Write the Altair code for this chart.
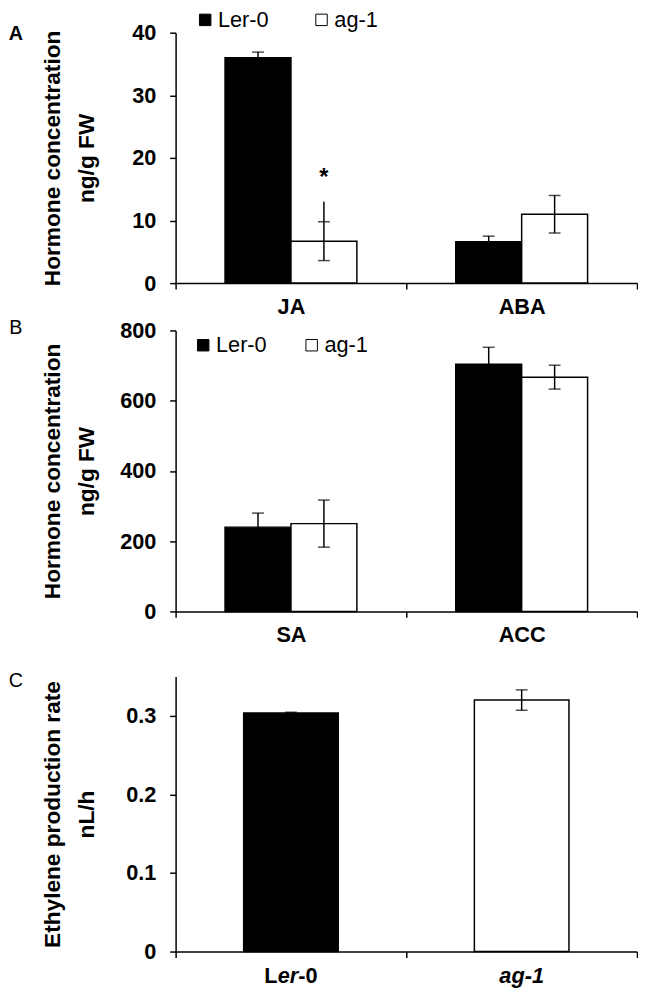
import altair as alt
import pandas as pd

FONT = "Liberation Sans"

# ---- data ----
genotypes = ["Ler-0", "ag-1"]

cats_A = ["JA", "ABA"]
ler_A = [36.0, 6.6]
ler_A_err = [0.9, 0.9]
ag_A = [6.7, 11.0]
ag_A_err = [3.1, 3.0]

cats_B = ["SA", "ACC"]
ler_B = [240, 704]
ler_B_err = [40, 48]
ag_B = [250, 667]
ag_B_err = [67, 34]

cats_C = ["Ler-0", "ag-1"]
val_C = [0.3035, 0.320]
err_C = [0.001, 0.013]

star_pos = {"category": "JA", "genotype": "ag-1", "y": 15.7, "t": "*"}
slash_pos = {"category": "JA", "genotype": "ag-1", "lo": 9.8, "hi": 13.0}

W = 468
HA, HB, HC = 254, 285, 279
TITLE_X = -118
LABEL_FS = 22


def long_df(cats, ler, ler_err, ag, ag_err):
    rows = []
    for i, c in enumerate(cats):
        for g, v, e in (("Ler-0", ler[i], ler_err[i]), ("ag-1", ag[i], ag_err[i])):
            rows.append({"category": c, "genotype": g, "value": v,
                         "lo": v - e, "hi": v + e})
    return pd.DataFrame(rows)


def letter(t, y, weight):
    return alt.Chart(pd.DataFrame({"t": [t]})).mark_text(
        font=FONT, fontSize=20, fontWeight=weight, align="center",
        baseline="middle", color="black"
    ).encode(text="t:N", x=alt.value(-162), y=alt.value(y))


def y_axis(title, values, height, fmt=None):
    kw = dict(values=values, title=title, titleX=TITLE_X,
              titleY=height / 2, titleBaseline="alphabetic",
              titleAngle=270, titleAlign="center",
              titleFontSize=23, titleLineHeight=35,
              titleFont=FONT, titleFontWeight="bold",
              labelPadding=14)
    if fmt:
        kw["format"] = fmt
    return alt.Axis(**kw)


def grouped_panel(df, cats, ymax, yvals, height, title, legend_x, legend_y,
                  col_pad, letter_t, letter_y, letter_w):
    xenc = alt.X("category:N", sort=cats,
                 scale=alt.Scale(paddingInner=0, paddingOuter=0),
                 axis=alt.Axis(title=None, tickBand="extent", labelAngle=0,
                               labelPadding=8))
    xoff = alt.XOffset("genotype:N", sort=genotypes,
                       scale=alt.Scale(paddingInner=0, paddingOuter=0.75))
    base = alt.Chart(df).encode(x=xenc, xOffset=xoff)
    yscale = alt.Scale(domain=[0, ymax], nice=False)
    bars = base.mark_bar(stroke="black", strokeWidth=1.5).encode(
        y=alt.Y("value:Q", scale=yscale, axis=y_axis(title, yvals, height)),
        color=alt.Color("genotype:N", sort=genotypes,
                        scale=alt.Scale(domain=genotypes, range=["black", "white"]),
                        legend=alt.Legend(title=None, orient="none",
                                          legendX=legend_x, legendY=legend_y,
                                          direction="horizontal",
                                          symbolType="square", symbolSize=135,
                                          symbolStrokeColor="black",
                                          symbolStrokeWidth=1,
                                          symbolOpacity=1,
                                          labelFont=FONT, labelFontSize=22,
                                          labelFontWeight="normal",
                                          labelColor="black",
                                          labelOffset=2, columnPadding=col_pad,
                                          padding=0)),
    )
    rules = base.mark_rule(color="black", strokeWidth=1.5).encode(
        y=alt.Y("lo:Q", scale=yscale), y2="hi:Q")
    cap_hi = base.mark_tick(color="black", size=12, thickness=1.5,
                            orient="horizontal").encode(y=alt.Y("hi:Q", scale=yscale))
    cap_lo = base.mark_tick(color="black", size=12, thickness=1.5,
                            orient="horizontal").encode(y=alt.Y("lo:Q", scale=yscale))
    layers = [bars, rules, cap_lo, cap_hi, letter(letter_t, letter_y, letter_w)]
    return layers, xenc, xoff, yscale


# ---- Panel A ----
dfA = long_df(cats_A, ler_A, ler_A_err, ag_A, ag_A_err)
layersA, xA, xoA, ysA = grouped_panel(
    dfA, cats_A, 40, [0, 10, 20, 30, 40], HA,
    ["Hormone concentration", "ng/g FW"], 19, -24, 42, "A", 1.5, "bold")
star = alt.Chart(pd.DataFrame([star_pos])).mark_text(
    font=FONT, fontSize=24, fontWeight="bold", baseline="alphabetic",
    align="center", color="black"
).encode(x=xA, xOffset=xoA, y=alt.Y("y:Q", scale=ysA), text="t:N")
slash = alt.Chart(pd.DataFrame([slash_pos])).mark_rule(
    color="black", strokeWidth=1.5
).encode(x=xA, xOffset=xoA, y=alt.Y("lo:Q", scale=ysA), y2="hi:Q")
chartA = alt.layer(*layersA, slash, star).properties(width=W, height=HA)

# ---- Panel B ----
dfB = long_df(cats_B, ler_B, ler_B_err, ag_B, ag_B_err)
layersB, _, _, _ = grouped_panel(
    dfB, cats_B, 800, [0, 200, 400, 600, 800], HB,
    ["Hormone concentration", "ng/g FW"], 17, 4, 34, "B", -2, "normal")
chartB = alt.layer(*layersB).properties(width=W, height=HB)

# ---- Panel C ----
dfC = pd.DataFrame({"geno": cats_C, "value": val_C,
                    "lo": [v - e for v, e in zip(val_C, err_C)],
                    "hi": [v + e for v, e in zip(val_C, err_C)]})
xC = alt.X("geno:N", sort=cats_C,
           scale=alt.Scale(paddingInner=0, paddingOuter=0),
           axis=alt.Axis(title=None, tickBand="extent", labels=False))
ysC = alt.Scale(domain=[0, 0.35], nice=False)
baseC = alt.Chart(dfC).encode(x=xC)
barsC = baseC.mark_bar(stroke="black", strokeWidth=1.5,
                       width=alt.RelativeBandSize(0.41)).encode(
    y=alt.Y("value:Q", scale=ysC,
            axis=y_axis(["Ethylene production rate", "nL/h"],
                        [0, 0.1, 0.2, 0.3], HC, fmt="~g")),
    fill=alt.Fill("geno:N", sort=cats_C,
                  scale=alt.Scale(domain=cats_C, range=["black", "white"]),
                  legend=None),
)
rulesC = baseC.mark_rule(color="black", strokeWidth=1.5).encode(
    y=alt.Y("lo:Q", scale=ysC), y2="hi:Q")
capC_hi = baseC.mark_tick(color="black", size=12, thickness=1.5,
                          orient="horizontal").encode(y=alt.Y("hi:Q", scale=ysC))
capC_lo = baseC.mark_tick(color="black", size=12, thickness=1.5,
                          orient="horizontal").encode(y=alt.Y("lo:Q", scale=ysC))

# category labels of panel C with mixed upright / italic parts
label_y = HC + 25
ler_parts = [("L", "normal", -27), ("er", "italic", -13.5), ("-0", "normal", 7.5)]
label_layers = []
for txt, style, dx in ler_parts:
    label_layers.append(
        alt.Chart(pd.DataFrame({"geno": ["Ler-0"], "t": [txt]})).mark_text(
            font=FONT, fontSize=LABEL_FS, fontWeight="bold", fontStyle=style,
            align="left", baseline="middle", dx=dx, color="black"
        ).encode(x=xC, y=alt.value(label_y), text="t:N"))
label_layers.append(
    alt.Chart(pd.DataFrame({"geno": ["ag-1"], "t": ["ag-1"]})).mark_text(
        font=FONT, fontSize=LABEL_FS, fontWeight="bold", fontStyle="italic",
        align="center", baseline="middle", color="black"
    ).encode(x=xC, y=alt.value(label_y), text="t:N"))

chartC = alt.layer(barsC, rulesC, capC_lo, capC_hi, *label_layers,
                   letter("C", 5, "normal")).properties(width=W, height=HC)

top = alt.vconcat(chartA, chartB, spacing=1).resolve_scale(
    color="independent", x="independent", y="independent")
chart = alt.vconcat(top, chartC, spacing=26).resolve_scale(
    color="independent", x="independent", y="independent"
).configure(padding={"left": 0, "top": -6, "right": 0, "bottom": 0}
).configure_view(stroke=None).configure_axis(
    domainColor="black", domainWidth=1.5, tickColor="black", tickWidth=1.5,
    tickSize=6, labelFont=FONT, labelFontSize=LABEL_FS, labelFontWeight="bold",
    labelColor="black", grid=False
)

chart.save("out.html", embed_options={"renderer": "svg", "actions": False})
